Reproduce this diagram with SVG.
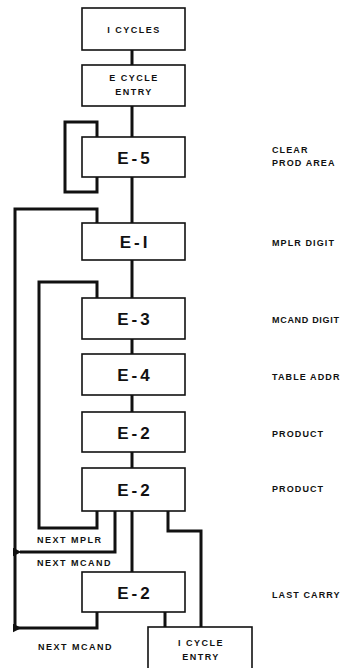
<svg xmlns="http://www.w3.org/2000/svg" width="343" height="668" viewBox="0 0 343 668">
<style>
.box{fill:#fff;stroke:#111;stroke-width:1.6}
.ln{fill:none;stroke:#111;stroke-width:3;stroke-linejoin:miter}
.big{font-family:"Liberation Sans",Arial,sans-serif;font-weight:bold;font-size:17px;fill:#111;text-anchor:middle;letter-spacing:3px}
.sm{font-family:"Liberation Sans",Arial,sans-serif;font-weight:bold;font-size:9px;fill:#111;letter-spacing:1.5px}
.lb{letter-spacing:1.1px}
.c{text-anchor:middle}
</style>
<defs>
<marker id="ah" viewBox="0 0 6 6" refX="1" refY="3" markerWidth="3" markerHeight="3" orient="auto" markerUnits="strokeWidth">
<path d="M6,0 L0,3 L6,6 Z" fill="#111"/>
</marker>
</defs>
<rect width="343" height="668" fill="#fff"/>
<g id="connectors">
<line class="ln" x1="132" y1="50" x2="132" y2="65"/>
<line class="ln" x1="132" y1="106" x2="132" y2="137"/>
<line class="ln" x1="132" y1="177" x2="132" y2="223"/>
<line class="ln" x1="132" y1="260" x2="132" y2="298"/>
<line class="ln" x1="132" y1="339" x2="132" y2="354"/>
<line class="ln" x1="132" y1="395" x2="132" y2="412"/>
<line class="ln" x1="132" y1="452" x2="132" y2="468"/>
<line class="ln" x1="132" y1="511" x2="132" y2="572"/>
<polyline class="ln" points="97,137 97,122 65,122 65,192 97,192 97,177"/>
<polyline class="ln" points="97,223 97,209 15,209 15,628 20,628"/>
<polyline class="ln" points="97,298 97,282 39,282 39,528 97,528 97,511"/>
<polyline class="ln" points="115,511 115,552 20,552" marker-end="url(#ah)"/>
<polyline class="ln" points="97,612 97,628 20,628" marker-end="url(#ah)"/>
<polyline class="ln" points="168,511 168,531 201,531 201,627"/>
<line class="ln" x1="165" y1="612" x2="165" y2="627"/>
</g>
<g id="n-icycles"><rect class="box" x="82" y="8" width="103" height="42"/><text class="sm c" x="134" y="33">I CYCLES</text></g>
<g id="n-ecycle"><rect class="box" x="82" y="65" width="103" height="41"/><text class="sm c" x="134" y="81">E CYCLE</text><text class="sm c" x="134" y="95">ENTRY</text></g>
<g id="n-e5"><rect class="box" x="82" y="137" width="103" height="40"/><text class="big" x="135" y="164">E-5</text></g>
<g id="n-e1"><rect class="box" x="82" y="223" width="103" height="37"/><text class="big" x="135" y="248">E-I</text></g>
<g id="n-e3"><rect class="box" x="82" y="298" width="103" height="41"/><text class="big" x="135" y="325">E-3</text></g>
<g id="n-e4"><rect class="box" x="82" y="354" width="103" height="41"/><text class="big" x="135" y="381">E-4</text></g>
<g id="n-e2a"><rect class="box" x="82" y="412" width="103" height="40"/><text class="big" x="135" y="439">E-2</text></g>
<g id="n-e2b"><rect class="box" x="82" y="468" width="103" height="43"/><text class="big" x="135" y="496">E-2</text></g>
<g id="n-e2c"><rect class="box" x="82" y="572" width="103" height="40"/><text class="big" x="135" y="599">E-2</text></g>
<g id="n-icycleentry"><rect class="box" x="148" y="627" width="104" height="48"/><text class="sm c" x="201" y="646">I CYCLE</text><text class="sm c" x="201" y="660">ENTRY</text></g>
<g id="labels">
<text class="sm lb" x="272" y="153">CLEAR</text>
<text class="sm lb" x="272" y="166">PROD AREA</text>
<text class="sm lb" x="272" y="246">MPLR DIGIT</text>
<text class="sm lb" x="272" y="323" textLength="68" lengthAdjust="spacing">MCAND DIGIT</text>
<text class="sm lb" x="272" y="380">TABLE ADDR</text>
<text class="sm lb" x="272" y="437">PRODUCT</text>
<text class="sm lb" x="272" y="492">PRODUCT</text>
<text class="sm lb" x="272" y="598">LAST CARRY</text>
<text class="sm" x="37" y="543">NEXT MPLR</text>
<text class="sm" x="37" y="566">NEXT MCAND</text>
<text class="sm" x="38" y="650">NEXT MCAND</text>
</g>
</svg>
